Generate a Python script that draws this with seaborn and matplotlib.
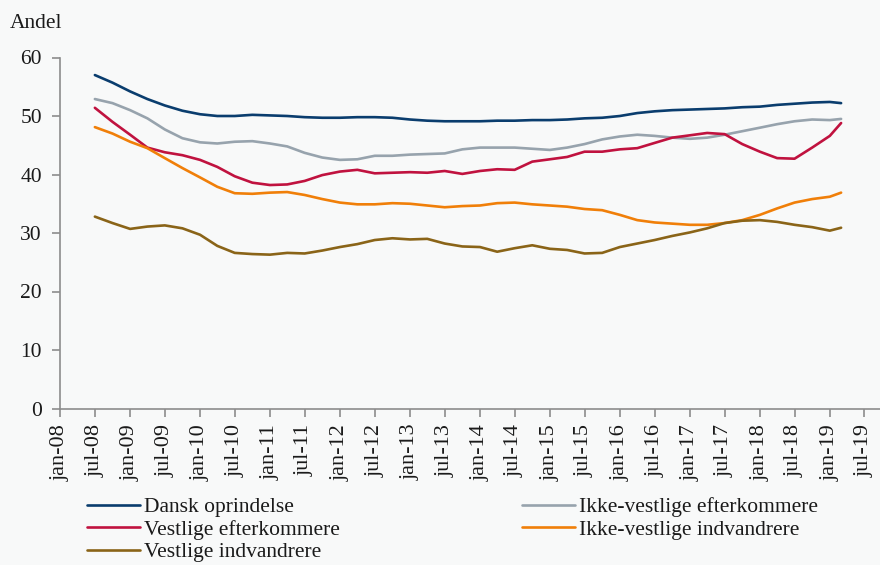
import matplotlib
matplotlib.use('Agg')
import matplotlib.pyplot as plt
import pandas as pd
import seaborn as sns

# kvartalsvise aflæsninger jul-08 .. jan-19 samt mar-19
datoer = list(pd.date_range('2008-07-01', '2019-01-01', freq='QS-JAN')) + [pd.Timestamp('2019-03-01')]

dansk = [57.0, 55.7, 54.2, 52.9, 51.8, 50.9, 50.3, 50.0, 50.0, 50.2, 50.1, 50.0, 49.8, 49.7, 49.7,
         49.8, 49.8, 49.7, 49.4, 49.2, 49.1, 49.1, 49.1, 49.2, 49.2, 49.3, 49.3, 49.4, 49.6, 49.7,
         50.0, 50.5, 50.8, 51.0, 51.1, 51.2, 51.3, 51.5, 51.6, 51.9, 52.1, 52.3, 52.4, 52.2]
ikke_vest_eft = [52.9, 52.2, 51.0, 49.6, 47.7, 46.2, 45.5, 45.3, 45.6, 45.7, 45.3, 44.8, 43.7, 42.9, 42.5,
                 42.6, 43.2, 43.2, 43.4, 43.5, 43.6, 44.3, 44.6, 44.6, 44.6, 44.4, 44.2, 44.6, 45.2, 46.0,
                 46.5, 46.8, 46.6, 46.3, 46.1, 46.3, 46.8, 47.4, 48.0, 48.6, 49.1, 49.4, 49.3, 49.5]
vest_eft = [51.4, 49.0, 46.8, 44.6, 43.8, 43.3, 42.5, 41.3, 39.7, 38.6, 38.2, 38.3, 38.9, 39.9, 40.5,
            40.8, 40.2, 40.3, 40.4, 40.3, 40.6, 40.1, 40.6, 40.9, 40.8, 42.2, 42.6, 43.0, 43.9, 43.9,
            44.3, 44.5, 45.4, 46.3, 46.7, 47.1, 46.9, 45.2, 43.9, 42.8, 42.7, 44.6, 46.6, 48.8]
ikke_vest_indv = [48.1, 47.0, 45.6, 44.5, 42.8, 41.1, 39.5, 37.9, 36.8, 36.7, 36.9, 37.0, 36.5, 35.8, 35.2,
                  34.9, 34.9, 35.1, 35.0, 34.7, 34.4, 34.6, 34.7, 35.1, 35.2, 34.9, 34.7, 34.5, 34.1, 33.9,
                  33.1, 32.2, 31.8, 31.6, 31.4, 31.4, 31.7, 32.2, 33.1, 34.2, 35.2, 35.8, 36.2, 36.9]
vest_indv = [32.8, 31.7, 30.7, 31.1, 31.3, 30.8, 29.7, 27.8, 26.6, 26.4, 26.3, 26.6, 26.5, 27.0, 27.6,
             28.1, 28.8, 29.1, 28.9, 29.0, 28.2, 27.7, 27.6, 26.8, 27.4, 27.9, 27.3, 27.1, 26.5, 26.6,
             27.6, 28.2, 28.8, 29.5, 30.1, 30.8, 31.7, 32.1, 32.2, 31.9, 31.4, 31.0, 30.4, 30.9]

serier = {
    'Dansk oprindelse': dansk,
    'Ikke-vestlige efterkommere': ikke_vest_eft,
    'Vestlige efterkommere': vest_eft,
    'Ikke-vestlige indvandrere': ikke_vest_indv,
    'Vestlige indvandrere': vest_indv,
}
farver = {
    'Dansk oprindelse': '#0a3d6e',
    'Ikke-vestlige efterkommere': '#97a3ad',
    'Vestlige efterkommere': '#c0123f',
    'Ikke-vestlige indvandrere': '#f07f09',
    'Vestlige indvandrere': '#8a6418',
}

mdr = ['jan', 'jul']
tick_datoer = pd.date_range('2008-01-01', '2019-07-01', freq='6MS')
tick_labels = [f"{mdr[0] if d.month == 1 else mdr[1]}-{d.year % 100:02d}" for d in tick_datoer]

df = pd.concat([pd.DataFrame({'dato': datoer, 'andel': v, 'gruppe': k}) for k, v in serier.items()])

bg = '#f8f9f9'
fs = 15.5
sns.set_style('ticks')
plt.rcParams['font.family'] = ['Liberation Serif', 'DejaVu Serif']
plt.rcParams['text.color'] = '#1a1a1a'

fig = plt.figure(figsize=(8.8, 5.65), dpi=100, facecolor=bg)
ax = fig.add_axes([60 / 880, 1 - 408.5 / 565, 820 / 880, (408.5 - 57.5) / 565])
ax.set_facecolor(bg)

sns.lineplot(data=df, x='dato', y='andel', hue='gruppe', palette=farver, linewidth=1.9,
             legend=False, ax=ax)

ax.set_xlim(pd.Timestamp('2008-01-01'), pd.Timestamp('2019-09-20'))
ax.set_ylim(0, 60)
ax.set_yticks(range(0, 61, 10))
ax.set_xticks(tick_datoer)
ax.set_xticklabels(tick_labels, rotation=90, fontsize=fs + 0.5)
ax.tick_params(axis='y', labelsize=fs, length=6, color='#8c8c8c', width=1.2, pad=7,
               labelcolor='#1a1a1a')
ax.tick_params(axis='x', length=6, color='#8c8c8c', width=1.2, pad=5, labelcolor='#1a1a1a')
ax.set_xlabel('')
ax.set_ylabel('')
sns.despine(ax=ax)
for s in ['left', 'bottom']:
    ax.spines[s].set_color('#8c8c8c')
    ax.spines[s].set_linewidth(1.2)

fig.text(10 / 880, 1 - 24 / 565, 'Andel', fontsize=fs, va='center', ha='left')

linjer = ax.get_lines()
navne = list(serier.keys())
h = {n: l for n, l in zip(navne, linjer)}
venstre = ['Dansk oprindelse', 'Vestlige efterkommere', 'Vestlige indvandrere']
hoejre = ['Ikke-vestlige efterkommere', 'Ikke-vestlige indvandrere']
for gruppe, x0 in [(venstre, 87), (hoejre, 522)]:
    fig.legend([h[n] for n in gruppe], gruppe, loc='upper left',
               bbox_to_anchor=(x0 / 880, 1 - 497 / 565), frameon=False, fontsize=fs,
               handlelength=2.45, handletextpad=0.2, borderpad=0, borderaxespad=0,
               labelspacing=0.12)

fig.savefig('out.png', dpi=100, facecolor=bg)
